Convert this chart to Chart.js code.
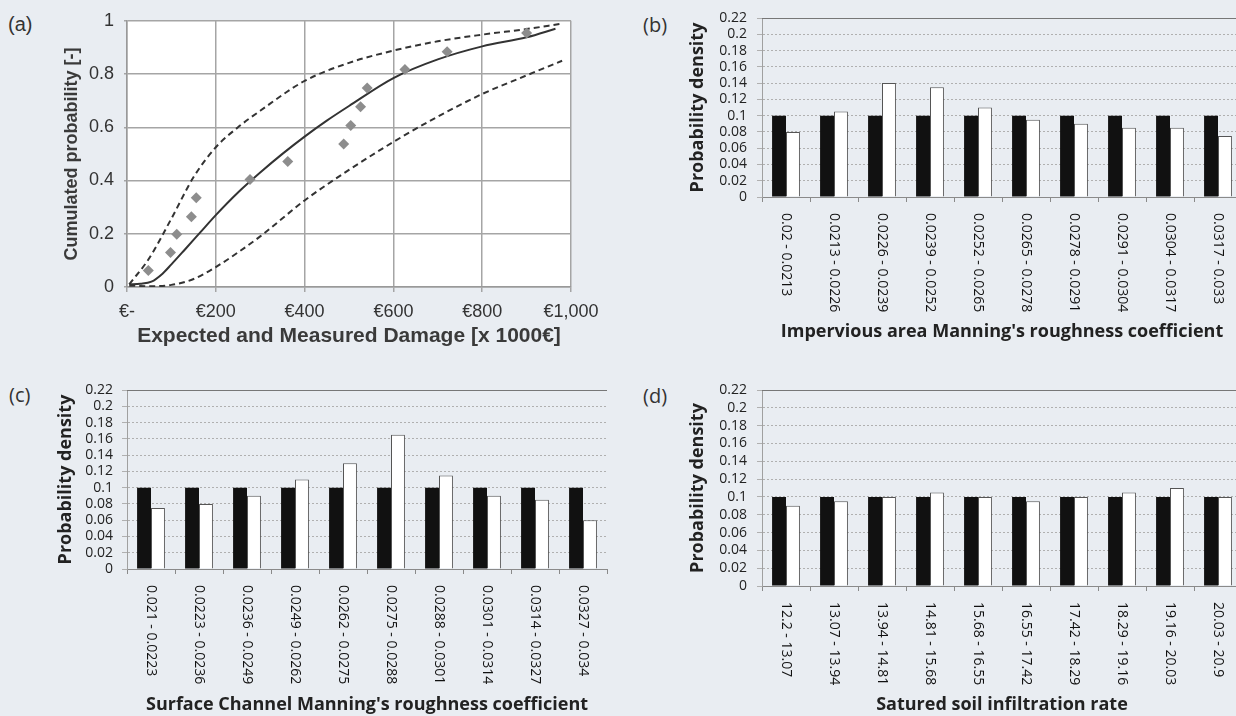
<!DOCTYPE html>
<html>
<head>
<meta charset="utf-8">
<script src="https://cdn.jsdelivr.net/npm/chart.js@4.4.0/dist/chart.umd.min.js"></script>
<style>
  html, body { margin: 0; padding: 0; background: #e9edf2; overflow: hidden; width: 1236px; height: 716px; }
  canvas { position: absolute; }
  .tag { position: absolute; font-size: 20px; line-height: 20px; color: #333; }
</style>
</head>
<body>
<div class="tag" style="left:8px;top:14px;font-family:'Liberation Sans',Arial,sans-serif">(a)</div>
<div class="tag" style="left:643px;top:15px;font-family:'Open Sans',sans-serif">(b)</div>
<div class="tag" style="left:9px;top:385px;font-family:'Open Sans',sans-serif">(c)</div>
<div class="tag" style="left:643px;top:386px;font-family:'Open Sans',sans-serif">(d)</div>

<canvas id="chartA" width="610" height="350" style="left:0;top:0"></canvas>
<canvas id="chartB" width="640" height="345" style="left:620px;top:0"></canvas>
<canvas id="chartC" width="620" height="346" style="left:0;top:370px"></canvas>
<canvas id="chartD" width="640" height="346" style="left:620px;top:370px"></canvas>

<script>
// (a) damage curves, x in thousand euro
const measuredX = [48, 98, 112, 145, 156, 277, 362, 488, 504, 526, 541, 626, 721, 900];
const measuredY = [0.062, 0.13, 0.198, 0.264, 0.335, 0.404, 0.471, 0.537, 0.607, 0.677, 0.748, 0.817, 0.884, 0.954];

const expectedX = [5, 30, 55, 80, 100, 130, 165, 200, 250, 300, 350, 400, 450, 500, 600, 700, 800, 900, 965];
const expectedY = [0.01, 0.012, 0.02, 0.05, 0.085, 0.14, 0.205, 0.27, 0.355, 0.43, 0.5, 0.565, 0.625, 0.68, 0.785, 0.855, 0.904, 0.938, 0.97];

const upperX = [5, 50, 100, 150, 200, 250, 300, 400, 500, 600, 700, 800, 900, 975];
const upperY = [0.01, 0.108, 0.257, 0.413, 0.525, 0.6, 0.662, 0.774, 0.842, 0.888, 0.923, 0.948, 0.969, 0.988];

const lowerX = [5, 50, 100, 150, 200, 250, 300, 400, 500, 600, 700, 800, 900, 980];
const lowerY = [0.005, 0.003, 0.008, 0.03, 0.075, 0.13, 0.19, 0.325, 0.44, 0.545, 0.64, 0.725, 0.795, 0.85];

// (b) impervious area roughness
const imperviousLabels = ['0.02 - 0.0213', '0.0213 - 0.0226', '0.0226 - 0.0239', '0.0239 - 0.0252', '0.0252 - 0.0265',
  '0.0265 - 0.0278', '0.0278 - 0.0291', '0.0291 - 0.0304', '0.0304 - 0.0317', '0.0317 - 0.033'];
const imperviousPrior = [0.1, 0.1, 0.1, 0.1, 0.1, 0.1, 0.1, 0.1, 0.1, 0.1];
const imperviousPosterior = [0.08, 0.105, 0.14, 0.135, 0.11, 0.095, 0.09, 0.085, 0.085, 0.075];

// (c) surface channel roughness
const channelLabels = ['0.021 - 0.0223', '0.0223 - 0.0236', '0.0236 - 0.0249', '0.0249 - 0.0262', '0.0262 - 0.0275',
  '0.0275 - 0.0288', '0.0288 - 0.0301', '0.0301 - 0.0314', '0.0314 - 0.0327', '0.0327 - 0.034'];
const channelPrior = [0.1, 0.1, 0.1, 0.1, 0.1, 0.1, 0.1, 0.1, 0.1, 0.1];
const channelPosterior = [0.075, 0.08, 0.09, 0.11, 0.13, 0.165, 0.115, 0.09, 0.085, 0.06];

// (d) saturated soil infiltration
const infiltrationLabels = ['12.2 - 13.07', '13.07 - 13.94', '13.94 - 14.81', '14.81 - 15.68', '15.68 - 16.55',
  '16.55 - 17.42', '17.42 - 18.29', '18.29 - 19.16', '19.16 - 20.03', '20.03 - 20.9'];
const infiltrationPrior = [0.1, 0.1, 0.1, 0.1, 0.1, 0.1, 0.1, 0.1, 0.1, 0.1];
const infiltrationPosterior = [0.09, 0.095, 0.1, 0.105, 0.1, 0.095, 0.1, 0.105, 0.11, 0.1];

const densityTicks = { min: 0, max: 0.22, step: 0.02 };

Chart.defaults.animation = false;
Chart.defaults.responsive = false;
Chart.defaults.devicePixelRatio = 1;
Chart.defaults.plugins.legend.display = false;
Chart.defaults.plugins.tooltip.enabled = false;

function toPoints(xs, ys){
    return xs.map((x, i) => ({x: x, y: ys[i]}));
}

const whitePlot = {
    id: 'whitePlot',
    beforeDraw(chart){
        const a = chart.chartArea;
        chart.ctx.save();
        chart.ctx.fillStyle = '#ffffff';
        chart.ctx.fillRect(a.left, a.top, a.right - a.left, a.bottom - a.top);
        chart.ctx.restore();
    }
};

const arial = "'Liberation Sans', Arial, sans-serif";

new Chart(document.getElementById('chartA'), {
    type: 'line',
    data: {
        datasets: [
            { label: 'Measured', data: toPoints(measuredX, measuredY), showLine: false,
              pointStyle: 'rectRot', pointRadius: 5.5, backgroundColor: '#8d8d8d', borderColor: '#8d8d8d', borderWidth: 0 },
            { label: 'Expected', data: toPoints(expectedX, expectedY), borderColor: '#333', borderWidth: 2,
              pointRadius: 0, cubicInterpolationMode: 'monotone' },
            { label: 'Upper', data: toPoints(upperX, upperY), borderColor: '#333', borderWidth: 2, borderDash: [6, 4],
              pointRadius: 0, cubicInterpolationMode: 'monotone' },
            { label: 'Lower', data: toPoints(lowerX, lowerY), borderColor: '#333', borderWidth: 2, borderDash: [6, 4],
              pointRadius: 0, cubicInterpolationMode: 'monotone' },
        ]
    },
    options: {
        layout: { padding: { top: 20, right: 39, left: 0, bottom: 0 } },
        scales: {
            x: {
                type: 'linear', min: 0, max: 1000,
                afterFit: (s) => { s.height = 63; },
                ticks: { stepSize: 200, padding: 9, color: '#333', font: { family: arial, size: 18 },
                         maxRotation: 0,
                         callback: (v) => v === 0 ? '€-' : '€' + v.toLocaleString('en-US') },
                grid: { color: '#a5a5a5', lineWidth: 1.5, tickLength: 5 },
                border: { color: '#999', width: 1.5 },
                title: { display: true, text: 'Expected and Measured Damage [x 1000€]', color: '#3a3a3a',
                         font: { family: arial, size: 21, weight: 'bold' }, padding: { top: 0, bottom: 1 } }
            },
            y: {
                min: 0, max: 1,
                afterFit: (s) => { s.width = 127; },
                ticks: { stepSize: 0.2, padding: 10, color: '#333', font: { family: arial, size: 18 },
                         callback: (v) => String(+v.toFixed(1)) },
                grid: { color: '#a5a5a5', lineWidth: 1.5, tickLength: 3 },
                border: { color: '#999', width: 1.5 },
                title: { display: true, text: 'Cumulated probability [-]', color: '#3a3a3a',
                         font: { family: arial, size: 18, weight: 'bold' }, padding: { top: 61, bottom: 0 } }
            }
        }
    },
    plugins: [whitePlot]
});

// category labels read top to bottom, plus solid top line
const rotatedLabels = {
    id: 'rotatedLabels',
    afterDraw(chart){
        const xs = chart.scales.x;
        const ys = chart.scales.y;
        const ctx = chart.ctx;
        ctx.save();
        ctx.strokeStyle = '#777';
        ctx.lineWidth = 1.2;
        ctx.beginPath();
        const top = Math.round(ys.getPixelForValue(densityTicks.max)) + 0.5;
        ctx.moveTo(xs.left, top);
        ctx.lineTo(xs.right, top);
        ctx.stroke();

        ctx.font = "14px 'Open Sans', sans-serif";
        ctx.fillStyle = '#111';
        ctx.textAlign = 'left';
        ctx.textBaseline = 'middle';
        chart.data.labels.forEach((lab, i) => {
            ctx.save();
            ctx.translate(xs.getPixelForValue(i), xs.top + 16);
            ctx.rotate(Math.PI / 2);
            ctx.fillText(lab, 0, 0);
            ctx.restore();
        });
        ctx.restore();
    }
};

function makeDensityChart(id, labels, prior, posterior, xTitle, box){
    const open = "'Open Sans', sans-serif";
    return new Chart(document.getElementById(id), {
        type: 'bar',
        data: {
            labels: labels,
            datasets: [
                { label: 'Prior', data: prior, backgroundColor: '#111', borderWidth: 0 },
                { label: 'Posterior', data: posterior, backgroundColor: '#fff', borderColor: '#555', borderWidth: 1 },
            ]
        },
        options: {
            categoryPercentage: 0.58,
            barPercentage: 1.0,
            layout: { padding: { top: box.top, right: box.right, left: 0, bottom: 0 } },
            scales: {
                x: {
                    afterFit: (s) => { s.height = box.xHeight; },
                    ticks: { display: false },
                    grid: { drawOnChartArea: false, color: '#8a8a8a', tickLength: 5, offset: true },
                    border: { color: '#8a8a8a' },
                    title: { display: true, text: xTitle, color: '#222',
                             font: { family: open, size: 18, weight: 'bold' }, padding: { top: 0, bottom: box.titleBottom } }
                },
                y: {
                    min: densityTicks.min, max: densityTicks.max,
                    afterFit: (s) => { s.width = box.left; },
                    ticks: { stepSize: densityTicks.step, maxTicksLimit: 20, autoSkip: false, padding: box.tickPad,
                             color: '#222', font: { family: open, size: 14, lineHeight: 1 },
                             callback: (v) => String(+v.toFixed(2)) },
                    grid: { color: '#b0b0b0', tickLength: 5 },
                    border: { color: '#a0a0a0', dash: [2, 2] },
                    title: { display: true, text: 'Probability density', color: '#222',
                             font: { family: open, size: 18, weight: 'bold' }, padding: { top: box.titleLeft, bottom: 0 } }
                }
            }
        },
        plugins: [rotatedLabels]
    });
}

makeDensityChart('chartB', imperviousLabels, imperviousPrior, imperviousPosterior,
    "Impervious area Manning's roughness coefficient",
    { top: 18, right: 18, xHeight: 148, left: 142, tickPad: 10, titleLeft: 67, titleBottom: 2 });

makeDensityChart('chartC', channelLabels, channelPrior, channelPosterior,
    "Surface Channel Manning's roughness coefficient",
    { top: 20, right: 13, xHeight: 147, left: 127, tickPad: 9, titleLeft: 55, titleBottom: 0 });

makeDensityChart('chartD', infiltrationLabels, infiltrationPrior, infiltrationPosterior,
    'Satured soil infiltration rate',
    { top: 20, right: 18, xHeight: 130, left: 142, tickPad: 10, titleLeft: 67, titleBottom: 0 });
</script>
</body>
</html>
